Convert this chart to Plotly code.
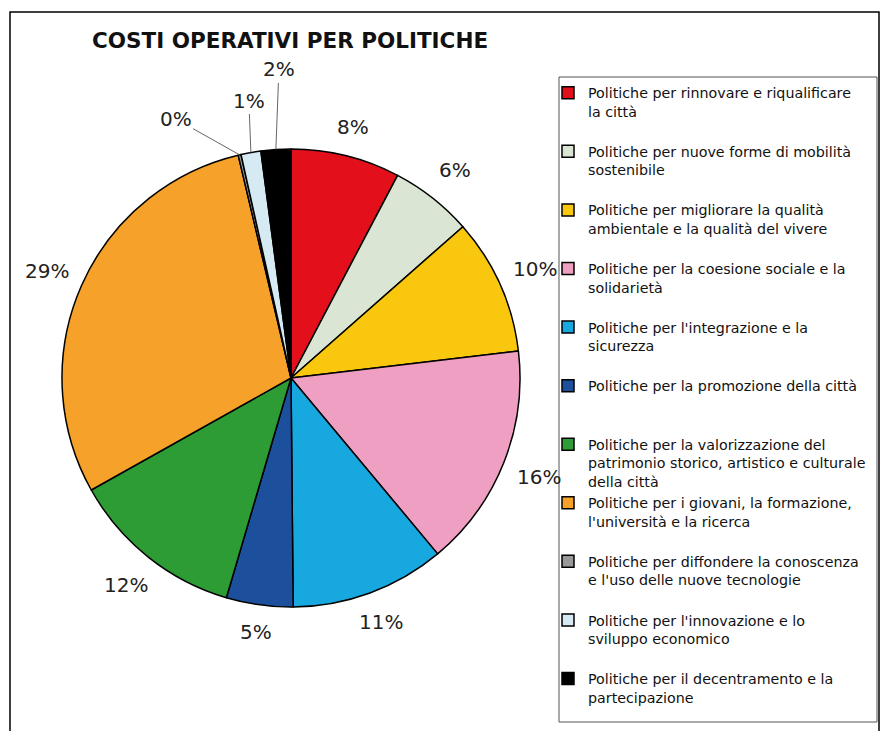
import math
import plotly.graph_objects as go

# Data
categorie = [
    "Politiche per rinnovare e riqualificare<br>la città",
    "Politiche per nuove forme di mobilità<br>sostenibile",
    "Politiche per migliorare la qualità<br>ambientale e la qualità del vivere",
    "Politiche per la coesione sociale e la<br>solidarietà",
    "Politiche per l'integrazione e la<br>sicurezza",
    "Politiche per la promozione della città",
    "Politiche per la valorizzazione del<br>patrimonio storico, artistico e culturale<br>della città",
    "Politiche per i giovani, la formazione,<br>l'università e la ricerca",
    "Politiche per diffondere la conoscenza<br>e l'uso delle nuove tecnologie",
    "Politiche per l'innovazione e lo<br>sviluppo economico",
    "Politiche per il decentramento e la<br>partecipazione",
]
valori = [7.7, 5.8, 9.6, 15.8, 10.9, 4.7, 12.3, 29.4, 0.2, 1.4, 2.1]
colori = ["#e3101c", "#dbe5d3", "#f9c80e", "#ef9fc1", "#18a8e0", "#1c4f9c",
          "#2e9c35", "#f6a12a", "#999999", "#d6eaf3", "#000000"]

W, H = 884, 731
CX, CY, R = 291, 378, 229
FONT = "DejaVu Sans, Arial, sans-serif"

# pad legend entries to three lines (gap between items), except the last
def pad(lbl, last):
    if last:
        return lbl
    n = lbl.count("<br>") + 1
    return lbl + "<br> " * (3 - n)

legend_labels = [pad(c, i == len(categorie) - 1) for i, c in enumerate(categorie)]

fig = go.Figure(go.Pie(
    labels=legend_labels,
    values=valori,
    marker=dict(colors=colori, line=dict(color="black", width=1.5)),
    sort=False,
    direction="clockwise",
    textinfo="none",
    hoverinfo="label+percent",
    domain=dict(x=[(CX - R) / W, (CX + R) / W], y=[1 - (CY + R) / H, 1 - (CY - R) / H]),
))

tot = sum(valori)
cum = 0
annotations = []
small_offsets = {8: (-64, -36), 9: (-2, -52), 10: (3, -80)}
for i, v in enumerate(valori):
    mid = (cum + v / 2) / tot * 2 * math.pi
    cum += v
    txt = f"{round(v / tot * 100)}%"
    if i in small_offsets:
        px = CX + R * math.sin(mid)
        py = CY - R * math.cos(mid)
        ax, ay = small_offsets[i]
        annotations.append(dict(
            x=px / W, y=1 - py / H, xref="paper", yref="paper", text=txt,
            xanchor="center", yanchor="middle",
            showarrow=True, arrowhead=0, arrowwidth=1, arrowcolor="#666666",
            ax=ax, ay=ay, font=dict(size=20, color="#222222"),
        ))
    else:
        rl = R + 16 + 20 * abs(math.sin(mid)) + 9 * abs(math.cos(mid))
        px = CX + rl * math.sin(mid)
        py = CY - rl * math.cos(mid)
        annotations.append(dict(
            x=px / W, y=1 - py / H, xref="paper", yref="paper", text=txt,
            xanchor="center", yanchor="middle",
            showarrow=False, font=dict(size=20, color="#222222"),
        ))

annotations.append(dict(
    x=90 / W, y=1 - 40 / H, xref="paper", yref="paper", xanchor="left", yanchor="middle",
    text="<b>COSTI OPERATIVI PER POLITICHE</b>", showarrow=False,
    font=dict(size=21.5, color="#111111"),
))

fig.update_layout(
    width=W, height=H,
    margin=dict(l=0, r=0, t=0, b=0),
    paper_bgcolor="white",
    font=dict(family=FONT, color="#111111"),
    showlegend=True,
    legend=dict(
        x=548 / W, y=1 - 77 / H, xanchor="left", yanchor="top",
        valign="top", font=dict(size=14.25), bgcolor="rgba(0,0,0,0)",
        borderwidth=0,
    ),
    annotations=annotations,
    shapes=[
        dict(type="rect", xref="paper", yref="paper",
             x0=10 / W, x1=879 / W, y0=-0.02, y1=1 - 12 / H,
             line=dict(color="black", width=1.5)),
        dict(type="rect", xref="paper", yref="paper",
             x0=559 / W, x1=877 / W, y0=1 - 722 / H, y1=1 - 77 / H,
             line=dict(color="#555555", width=1)),
    ],
)

fig.write_html("out.html", config={"displayModeBar": False},
               post_script="document.body.style.margin='0';")
